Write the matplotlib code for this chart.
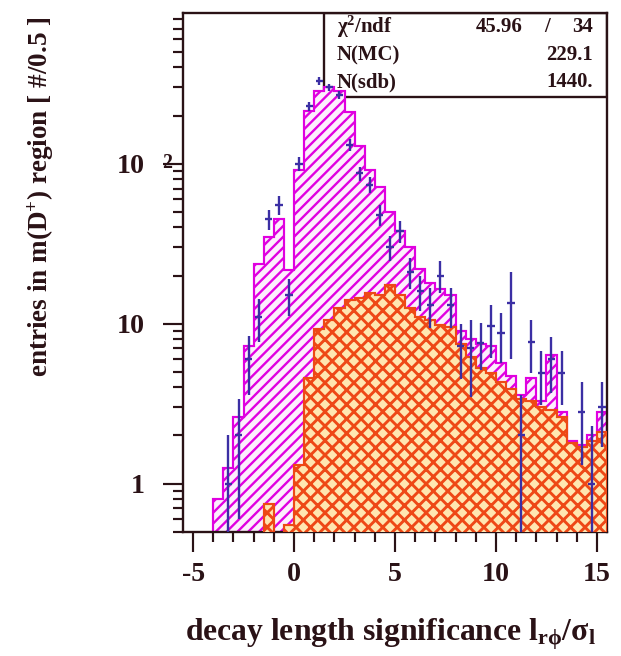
import numpy as np
import matplotlib
matplotlib.use("Agg")
import matplotlib.pyplot as plt
from matplotlib.patches import Rectangle
from matplotlib.ticker import FixedLocator, MultipleLocator, LogLocator, NullFormatter

plt.rcParams["font.family"] = ["Liberation Serif", "DejaVu Serif"]
plt.rcParams["font.weight"] = "bold"
plt.rcParams["mathtext.fontset"] = "custom"
plt.rcParams["mathtext.rm"] = "Liberation Serif:bold"
plt.rcParams["mathtext.it"] = "Liberation Serif:italic:bold"
plt.rcParams["mathtext.bf"] = "Liberation Serif:bold"
plt.rcParams["mathtext.default"] = "rm"
plt.rcParams["axes.unicode_minus"] = False

# binning of the decay length significance, 0.5 per bin
x_lo, x_hi, bin_w = -5.5, 15.5, 0.5

# MC signal + sideband background (magenta, stacked total)
mc_sdb = [0, 0, 0, 0.8, 1.25, 2.6, 7.3, 23.5, 35, 45, 21.7, 92, 215, 285,
          300, 285, 210, 130, 92, 72, 50, 38, 30, 22, 18, 16.5, 15, 9,
          8, 7.5, 7.2, 5.7, 4.7, 3.6, 4.6, 3.3, 6.4, 2.8, 1.85, 1.75, 2.0, 2.8]

# sideband background alone (orange)
sdb = [0, 0, 0, 0, 0, 0, 0, 0, 0.75, 0, 0.55, 1.3, 4.6, 9.2,
       10.5, 12.5, 14, 14.5, 15.5, 15, 17.5, 15, 12.5, 11, 10.5, 9.8, 9.5, 7.5,
       6.2, 5.3, 4.9, 4.3, 3.9, 3.4, 3.3, 3.0, 2.9, 2.6, 1.8, 1.7, 1.85, 2.1]

# data entries and their errors (nan = empty bin)
nan = np.nan
data = [nan, nan, nan, nan, 1, 2, 6, 11, 45, 55, 15, 100, 230, 330,
        300, 270, 131, 87, 74, 48, 30, 38, 21, 16, 13, 20, 13, 7.2,
        7, 7.6, 9.6, 8.7, 13.5, 2, 7.7, 4.9, 6, 4.9, nan, 2.8, 1, 3]
data_err = [nan, nan, nan, nan, 1.0, 1.4, 2.4, 3.3, 6.7, 7.4, 3.9, 10, 15, 18,
            17, 16, 11, 9, 8.5, 7, 5.5, 6, 4.6, 4, 3.6, 4.5, 3.6, 2.7,
            3.5, 2.5, 3.5, 3, 7.5, 1.6, 2.8, 1.8, 2.3, 1.8, nan, 1.5, 1.3, 1.3]

stat_labels = ["$\\chi^{2}$/ndf", "N(MC)", "N(sdb)"]
chi2_val, ndf_val = "45.96", "34"
n_mc, n_sdb = "229.1", "1440."

ink = "#2a1216"
magenta = "#e000e0"
orange = "#ee4816"
blue = "#3b2fa4"

W, H, DPI = 621, 656, 130
fig = plt.figure(figsize=(W / DPI, H / DPI), dpi=DPI)
ax = fig.add_axes([183 / W, 1 - 531.7 / H, 424 / W, 519 / H])

edges = np.arange(x_lo, x_hi + bin_w / 2, bin_w)
centers = edges[:-1] + bin_w / 2
floor = 0.3

with plt.rc_context({"hatch.linewidth": 1.3}):
    tot = ax.stairs(np.maximum(mc_sdb, floor), edges, baseline=floor, fill=True,
                    facecolor="#fdeefd", edgecolor=magenta, hatch="////",
                    linewidth=1.2, zorder=2)
with plt.rc_context({"hatch.linewidth": 1.6}):
    bg = ax.stairs(np.maximum(sdb, floor), edges, baseline=floor, fill=True,
                   facecolor="#ffe6b0", edgecolor=orange, hatch="xxx",
                   linewidth=1.2, zorder=3)
if hasattr(tot, "set_hatch_linewidth"):
    tot.set_hatch_linewidth(1.3)
    bg.set_hatch_linewidth(1.6)

y = np.array(data, dtype=float)
e = np.array(data_err, dtype=float)
ok = ~np.isnan(y)
lo = np.minimum(e[ok], y[ok] - floor)
ax.errorbar(centers[ok], y[ok], yerr=[lo, e[ok]], xerr=0.18, fmt="none",
            ecolor=blue, elinewidth=1.3, capsize=0, zorder=4)

# statistics box in the upper right corner
ax.add_patch(Rectangle((0.3325, 0.8375), 0.6675, 0.1625, transform=ax.transAxes,
                       facecolor="white", edgecolor=ink, linewidth=1.3, zorder=1.5))
rows_y = [0.9725, 0.9185, 0.8665]
fs = 11.5
for lab, yy in zip(stat_labels, rows_y):
    ax.text(0.363, yy, lab, transform=ax.transAxes, ha="left", va="center",
            fontsize=fs, color=ink, zorder=6)
ax.text(0.802, rows_y[0], chi2_val, transform=ax.transAxes, ha="right", va="center",
        fontsize=fs, color=ink, zorder=6)
ax.text(0.858, rows_y[0], "/", transform=ax.transAxes, ha="center", va="center",
        fontsize=fs, color=ink, zorder=6)
ax.text(0.967, rows_y[0], ndf_val, transform=ax.transAxes, ha="right", va="center",
        fontsize=fs, color=ink, zorder=6)
ax.text(0.967, rows_y[1], n_mc, transform=ax.transAxes, ha="right", va="center",
        fontsize=fs, color=ink, zorder=6)
ax.text(0.967, rows_y[2], n_sdb, transform=ax.transAxes, ha="right", va="center",
        fontsize=fs, color=ink, zorder=6)

ax.set_xlim(x_lo, x_hi)
ax.set_yscale("log")
ax.set_ylim(0.5, 880)

ax.xaxis.set_major_locator(FixedLocator([-5, 0, 5, 10, 15]))
ax.xaxis.set_minor_locator(MultipleLocator(1))
ax.yaxis.set_major_locator(FixedLocator([1, 10, 100]))
ax.yaxis.set_minor_locator(LogLocator(base=10, subs=np.arange(2, 10)))
ax.yaxis.set_minor_formatter(NullFormatter())
ax.set_yticklabels(["1", "10", "10"])

ax.tick_params(which="both", direction="out", top=False, right=False,
               color=ink, width=1.2, labelcolor=ink, labelsize=15.5)
ax.tick_params(which="major", length=11)
ax.tick_params(which="minor", length=5.5)
ax.tick_params(axis="x", which="major", pad=6)
ax.tick_params(axis="y", which="major", pad=10)
ax.annotate("2", xy=(0, 100), xycoords=ax.get_yaxis_transform(),
            xytext=(-21, 1), textcoords="offset pixels", ha="left", va="center",
            fontsize=11, color=ink)

for s in ax.spines.values():
    s.set_color(ink)
    s.set_linewidth(1.3)

fig.text(41 / W, 1 - 197 / H, "entries in m(D$^{+}$) region [ #/0.5 ]",
         rotation=90, ha="center", va="center", fontsize=15, color=ink)
fig.text(390 / W, 1 - 634 / H,
         "decay length significance l$_{r\\phi}$/$\\sigma_{l}$",
         ha="center", va="center", fontsize=17.5, color=ink)

fig.savefig("out.png", dpi=DPI)
